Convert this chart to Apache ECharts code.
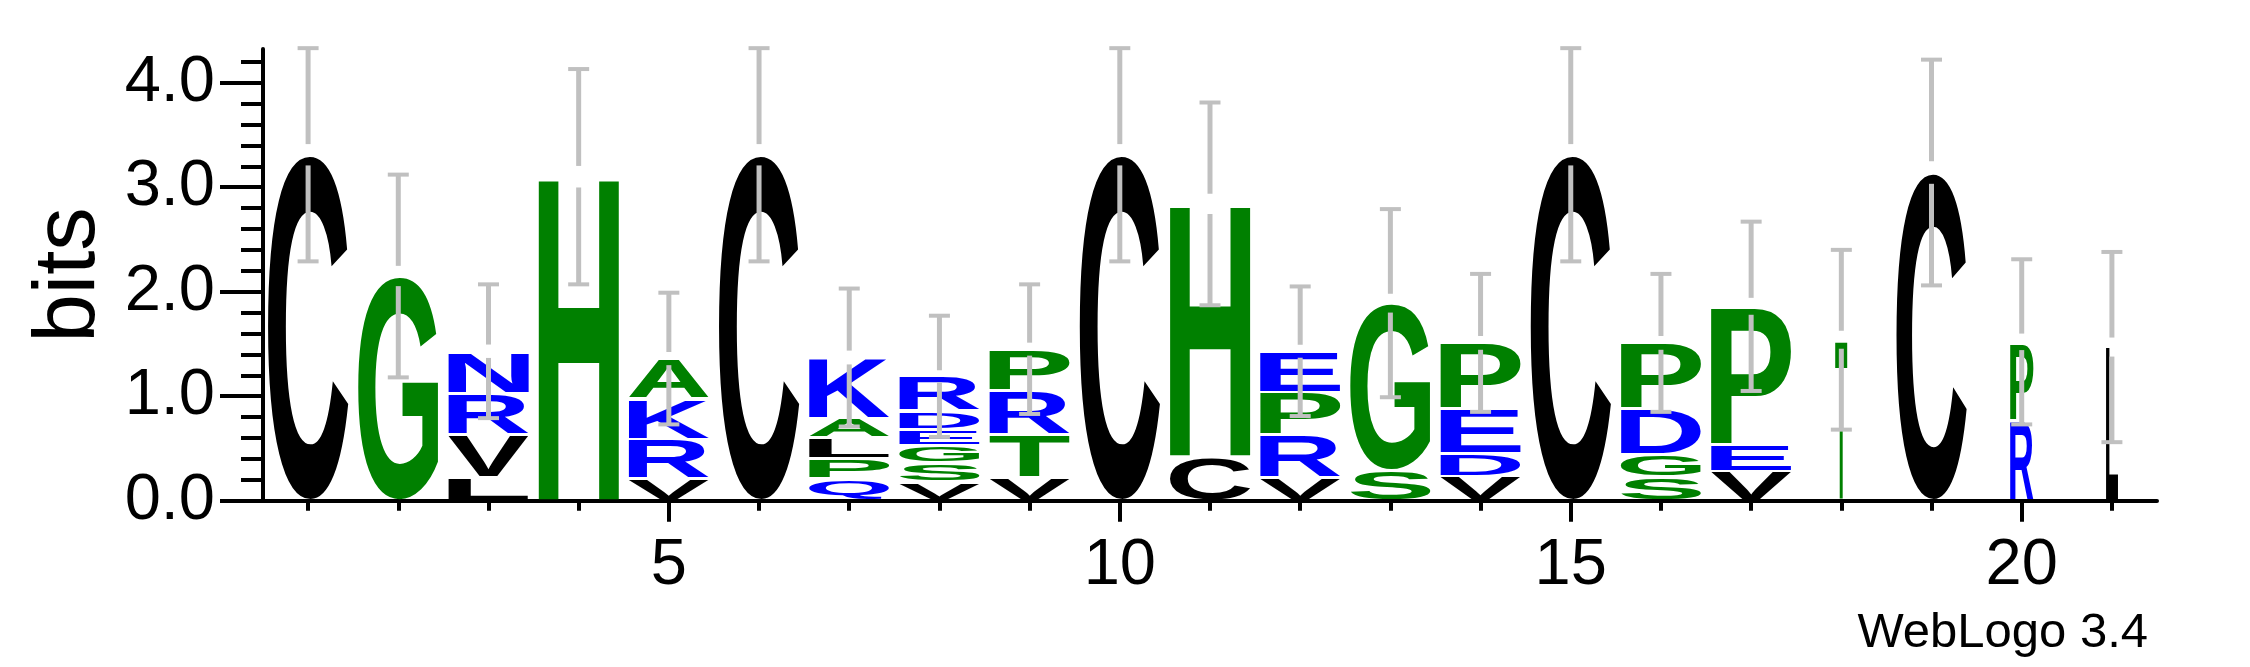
<!DOCTYPE html>
<html><head><meta charset="utf-8">
<script src="https://cdn.jsdelivr.net/npm/echarts@6/dist/echarts.min.js"></script>
<style>html,body{margin:0;padding:0;background:#fff}#c{width:2250px;height:667px}</style>
</head><body><div id="c"></div>
<script>
// ---- data ----
const positions = ['1','2','3','4','5','6','7','8','9','10','11','12','13','14','15','16','17','18','19','20','21'];
// letters of each stack, bottom -> top
const stackLetters = ['C','G','LVRN','H','VRKA','C','QPLAK','VSGEDR','VTRP','C','CH','VRPE','SG','VDEP','C','SGDP','VEP','T','C','RP','L'];
// heights (bits) of each letter, bottom -> top
const stackHeights = [
  [3.31],
  [2.15],
  [0.22, 0.41, 0.40, 0.40],
  [3.10],
  [0.21, 0.38, 0.39, 0.38],
  [3.31],
  [0.21, 0.19, 0.20, 0.19, 0.58],
  [0.18, 0.18, 0.17, 0.15, 0.18, 0.33],
  [0.22, 0.41, 0.42, 0.40],
  [3.31],
  [0.42, 2.42],
  [0.22, 0.41, 0.41, 0.39],
  [0.29, 1.60],
  [0.23, 0.22, 0.43, 0.63],
  [3.31],
  [0.23, 0.21, 0.44, 0.63],
  [0.28, 0.26, 1.32],
  [1.54],
  [3.14],
  [0.77, 0.75],
  [1.47]
];
// half length of the error bar (bits), centred on the stack top
const errorHalf = [1.02, 0.97, 0.64, 1.03, 0.63, 1.02, 0.66, 0.58, 0.62, 1.02, 0.97, 0.62, 0.90, 0.66, 1.02, 0.66, 0.81, 0.86, 1.08, 0.79, 0.91];
// relative stack widths (fraction of non-gap sequences)
const stackWidths = [1,1,1,1,1,1,1,1,1,1,1,1,1,1,1,1,1,0.15,0.875,0.29,0.15];
const yMax = 4.3219;
const yMajorTicks = [0, 1, 2, 3, 4];
const yMinorTicks = [0,0.2,0.4,0.6,0.8,1,1.2,1.4,1.6,1.8,2,2.2,2.4,2.6,2.8,3,3.2,3.4,3.6,3.8,4,4.2];
const xLabelPositions = ['5', '10', '15', '20'];
const letterColors = {
  C:'#000000', V:'#000000', L:'#000000',
  G:'#008000', H:'#008000', A:'#008000', P:'#008000', S:'#008000', T:'#008000',
  N:'#0000ff', R:'#0000ff', K:'#0000ff', Q:'#0000ff', E:'#0000ff', D:'#0000ff'
};

// ---- build series data ----
const letterItems = [];
const letterData = [];
const errorData = [];
stackLetters.forEach((letters, i) => {
  let y = 0;
  letters.split('').forEach((ch, k) => {
    const h = stackHeights[i][k];
    letterItems.push(ch);
    letterData.push([i, y, y + h, stackWidths[i]]);
    y += h;
  });
  errorData.push([i, y, errorHalf[i]]);
});

// ---- glyph metrics ----
const LETTER_FONT = 'bold 200px "Liberation Sans"';
const metrics = {};
(function(){
  const cv = document.createElement('canvas');
  const ctx = cv.getContext('2d');
  ctx.font = LETTER_FONT;
  ctx.textAlign = 'left';
  ctx.textBaseline = 'middle';
  Object.keys(letterColors).forEach(ch => {
    const m = ctx.measureText(ch);
    metrics[ch] = {
      left: m.actualBoundingBoxLeft, right: m.actualBoundingBoxRight,
      ascent: m.actualBoundingBoxAscent, descent: m.actualBoundingBoxDescent,
      w: m.actualBoundingBoxLeft + m.actualBoundingBoxRight,
      h: m.actualBoundingBoxAscent + m.actualBoundingBoxDescent
    };
  });
})();

const LETTER_W = 0.89;
function renderLetter(params, api) {
  const ch = letterItems[params.dataIndex];
  const m = metrics[ch];
  const band = api.size([1, 0])[0];
  const p0 = api.coord([api.value(0), api.value(1)]);
  const p1 = api.coord([api.value(0), api.value(2)]);
  const w = band * LETTER_W * api.value(3);
  const pad = 1.5;
  const top = p1[1] + pad;
  const h = Math.max(0.5, p0[1] - pad - top);
  const sx = w / m.w, sy = h / m.h;
  return {
    type: 'text',
    x: p0[0] - w / 2 + m.left * sx,
    y: top + m.ascent * sy,
    scaleX: sx, scaleY: sy,
    style: {
      text: ch, font: LETTER_FONT, fill: letterColors[ch],
      x: 0, y: 0,
      align: 'left', verticalAlign: 'middle',
      textAlign: 'left', textVerticalAlign: 'middle'
    }
  };
}

function renderError(params, api) {
  const i = api.value(0), t = api.value(1), e = api.value(2);
  const pTop = api.coord([i, t + e]);
  const pBot = api.coord([i, t - e]);
  const pMid = api.coord([i, t]);
  const gap = (pBot[1] - pTop[1]) * 0.05;
  const x = pMid[0];
  const bar = { stroke: '#c0c0c0', lineWidth: 5 };
  const cap = { stroke: '#c0c0c0', lineWidth: 4 };
  return {
    type: 'group',
    children: [
      { type: 'line', shape: { x1: x, y1: pTop[1], x2: x, y2: pMid[1] - gap }, style: bar },
      { type: 'line', shape: { x1: x, y1: pMid[1] + gap, x2: x, y2: pBot[1] }, style: bar },
      { type: 'line', shape: { x1: x - 10.5, y1: pTop[1], x2: x + 10.5, y2: pTop[1] }, style: cap },
      { type: 'line', shape: { x1: x - 10.5, y1: pBot[1], x2: x + 10.5, y2: pBot[1] }, style: cap }
    ]
  };
}

const FONT = 'Liberation Sans';
const chart = echarts.init(document.getElementById('c'), null, { renderer: 'canvas' });
chart.setOption({
  animation: false,
  backgroundColor: '#ffffff',
  grid: { left: 263, right: 93, top: 49, bottom: 166.3, containLabel: false },
  xAxis: [
    {
      type: 'category', data: positions, position: 'bottom', boundaryGap: true,
      axisLine: { show: true, lineStyle: { color: '#000', width: 4 } },
      axisTick: { show: true, alignWithLabel: true, interval: 0, length: 10, lineStyle: { color: '#000', width: 4 } },
      axisLabel: { show: false },
      splitLine: { show: false }
    },
    {
      type: 'category', data: positions, position: 'bottom', boundaryGap: true,
      axisLine: { show: false },
      axisTick: { show: true, alignWithLabel: true,
        interval: (idx, val) => xLabelPositions.indexOf(val) >= 0,
        length: 21, lineStyle: { color: '#000', width: 4 } },
      axisLabel: { show: true, interval: (idx, val) => xLabelPositions.indexOf(val) >= 0,
        margin: 33, fontFamily: FONT, fontSize: 65, color: '#000' },
      splitLine: { show: false }
    }
  ],
  yAxis: [
    {
      type: 'value', min: 0, max: yMax, position: 'left',
      name: 'bits', nameLocation: 'middle', nameRotate: 90, nameGap: 148,
      nameTextStyle: { fontFamily: FONT, fontSize: 87, color: '#000' },
      axisLine: { show: true, lineStyle: { color: '#000', width: 4 } },
      axisTick: { show: true, customValues: yMajorTicks, length: 43, lineStyle: { color: '#000', width: 4 } },
      axisLabel: { show: true, customValues: yMajorTicks, margin: 48,
        formatter: v => Number(v).toFixed(1), fontFamily: FONT, fontSize: 65, color: '#000' },
      splitLine: { show: false }
    },
    {
      type: 'value', min: 0, max: yMax, position: 'left',
      axisLine: { show: false },
      axisTick: { show: true, customValues: yMinorTicks, length: 22, lineStyle: { color: '#000', width: 4 } },
      axisLabel: { show: false },
      splitLine: { show: false }
    }
  ],
  graphic: [
    { type: 'text', right: 102, top: 608.6,
      style: { text: 'WebLogo 3.4', font: '49px "Liberation Sans"', fill: '#000' } }
  ],
  series: [
    { type: 'custom', name: 'letters', xAxisIndex: 0, yAxisIndex: 0, z: 2,
      renderItem: renderLetter, data: letterData, clip: false, silent: true },
    { type: 'custom', name: 'error', xAxisIndex: 0, yAxisIndex: 0, z: 3,
      renderItem: renderError, data: errorData, clip: false, silent: true }
  ]
});
</script>
</body></html>
